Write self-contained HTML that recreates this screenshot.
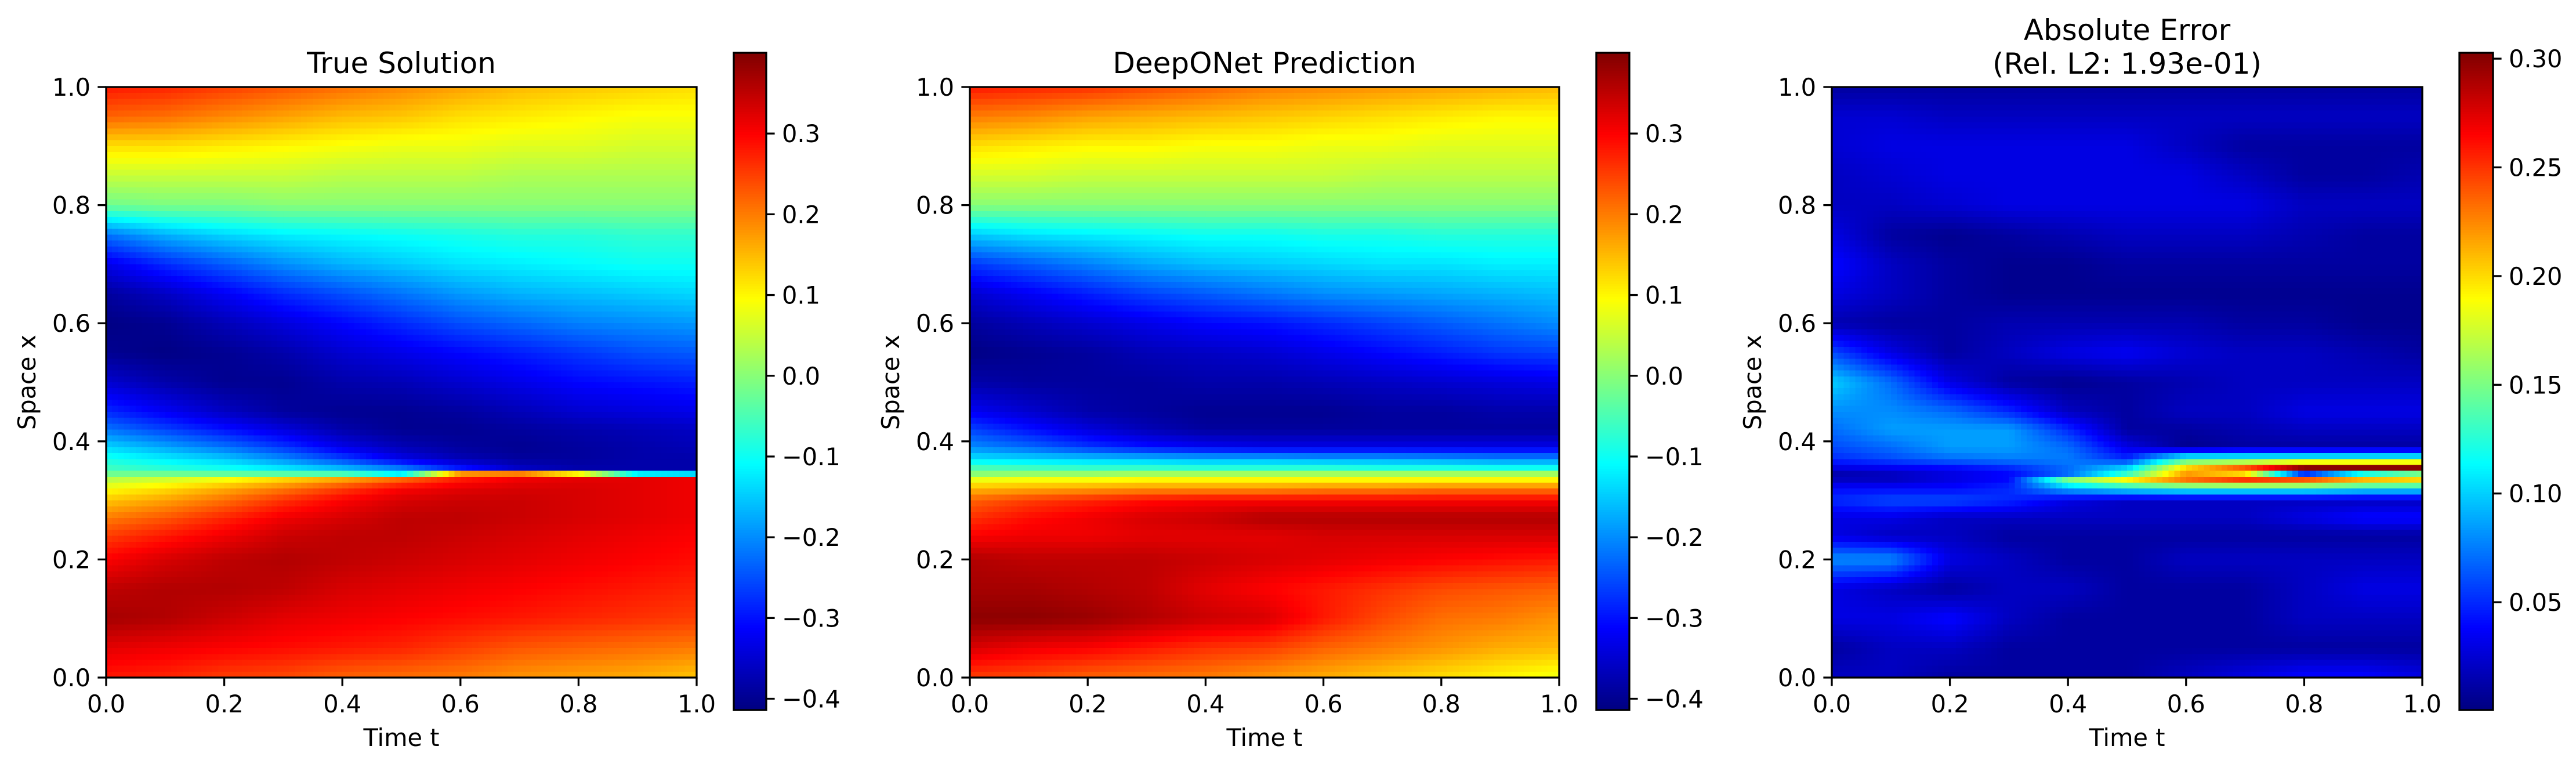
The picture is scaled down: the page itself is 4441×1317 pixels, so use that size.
<!DOCTYPE html>
<html><head><meta charset="utf-8">
<style>
html,body{margin:0;padding:0;background:#fff;}
#root{position:relative;width:4441px;height:1317px;overflow:hidden;background:#fff;font-family:"DejaVu Sans","Liberation Sans",sans-serif;}
canvas{position:absolute;image-rendering:pixelated;}
svg{position:absolute;left:0;top:0;}
</style></head>
<body>
<div id="root">
<canvas id="hm0" width="100" height="100" style="left:183px;top:150px;width:1018px;height:1018px"></canvas>
<canvas id="hm1" width="100" height="100" style="left:1672px;top:150px;width:1016px;height:1018px"></canvas>
<canvas id="hm2" width="100" height="100" style="left:3158px;top:150px;width:1018px;height:1018px"></canvas>
<canvas id="cb0" width="1" height="256" style="left:1265px;top:91px;width:56px;height:1133px"></canvas>
<canvas id="cb1" width="1" height="256" style="left:2752px;top:91px;width:57px;height:1133px"></canvas>
<canvas id="cb2" width="1" height="256" style="left:4240px;top:91px;width:58px;height:1133px"></canvas>
<svg id="ov" width="4441" height="1317"></svg>
</div>
<script>
const T = [0,0.1,0.2,0.3,0.4,0.5,0.6,0.7,0.8,0.9,1.0];
const X = [1,.95,.9,.85,.8,.75,.7,.65,.6,.55,.5,.45,.42,.39,.37,.355,.345,.335,.32,.3,.27,.24,.2,.15,.1,.05,0];
const trueVals = [
[.28,.27,.25,.23,.21,.19,.17,.15,.14,.13,.12],
[.22,.21,.19,.17,.15,.14,.12,.11,.10,.09,.09],
[.12,.12,.11,.10,.09,.08,.08,.07,.07,.06,.06],
[.05,.05,.05,.05,.04,.04,.04,.03,.03,.03,.03],
[-.02,-.01,-.01,0,0,0,0,0,0,0,0],
[-.22,-.17,-.14,-.12,-.11,-.1,-.09,-.08,-.08,-.07,-.07],
[-.33,-.28,-.24,-.2,-.17,-.15,-.13,-.12,-.11,-.1,-.1],
[-.39,-.36,-.32,-.28,-.25,-.22,-.19,-.17,-.16,-.15,-.14],
[-.41,-.40,-.37,-.34,-.31,-.28,-.25,-.23,-.21,-.2,-.19],
[-.40,-.41,-.40,-.38,-.35,-.33,-.31,-.29,-.27,-.25,-.24],
[-.35,-.38,-.40,-.40,-.38,-.37,-.35,-.33,-.31,-.30,-.29],
[-.28,-.32,-.36,-.39,-.40,-.40,-.39,-.37,-.35,-.34,-.33],
[-.22,-.26,-.30,-.34,-.38,-.40,-.40,-.39,-.38,-.37,-.36],
[-.14,-.18,-.22,-.27,-.33,-.37,-.39,-.40,-.39,-.38,-.37],
[-.09,-.12,-.15,-.2,-.26,-.33,-.37,-.39,-.39,-.38,-.38],
[-.06,-.08,-.1,-.13,-.17,-.22,-.3,-.36,-.38,-.38,-.38],
[-.02,-.02,-.03,-.04,-.05,-.12,.18,.2,.1,-.12,-.14],
[.04,.06,.09,.13,.17,.22,.28,.31,.32,.32,.31],
[.09,.12,.16,.2,.25,.3,.32,.33,.33,.32,.31],
[.14,.17,.21,.26,.3,.33,.34,.34,.33,.32,.31],
[.2,.23,.27,.31,.33,.35,.35,.34,.33,.32,.31],
[.25,.28,.31,.34,.35,.35,.34,.33,.32,.31,.3],
[.3,.33,.35,.36,.35,.34,.33,.32,.31,.3,.29],
[.35,.36,.36,.35,.33,.32,.31,.3,.29,.28,.27],
[.37,.36,.34,.32,.31,.3,.29,.28,.27,.26,.25],
[.32,.31,.3,.29,.28,.27,.25,.23,.22,.21,.2],
[.28,.27,.25,.24,.22,.21,.2,.18,.17,.16,.14]];
const predVals = [
[.28,.27,.26,.24,.22,.2,.19,.18,.17,.16,.15],
[.2,.19,.17,.16,.15,.14,.13,.12,.11,.1,.1],
[.12,.11,.1,.1,.09,.09,.08,.08,.07,.07,.07],
[.06,.06,.05,.05,.05,.05,.05,.04,.04,.04,.04],
[0,0,0,0,0,0,0,0,0,0,0],
[-.15,-.13,-.12,-.11,-.1,-.1,-.09,-.09,-.08,-.08,-.08],
[-.27,-.24,-.21,-.18,-.16,-.15,-.14,-.13,-.13,-.12,-.12],
[-.35,-.32,-.29,-.26,-.24,-.22,-.2,-.19,-.18,-.17,-.16],
[-.39,-.37,-.35,-.33,-.31,-.3,-.28,-.26,-.24,-.22,-.2],
[-.41,-.40,-.39,-.37,-.36,-.35,-.33,-.31,-.29,-.27,-.26],
[-.38,-.39,-.39,-.39,-.38,-.38,-.37,-.36,-.35,-.34,-.33],
[-.32,-.35,-.38,-.39,-.40,-.40,-.40,-.39,-.39,-.38,-.38],
[-.26,-.30,-.34,-.37,-.39,-.39,-.39,-.39,-.39,-.39,-.39],
[-.2,-.23,-.27,-.3,-.32,-.33,-.33,-.33,-.33,-.33,-.33],
[-.13,-.14,-.15,-.16,-.17,-.17,-.18,-.18,-.19,-.2,-.2],
[-.05,-.06,-.07,-.07,-.08,-.08,-.08,-.09,-.09,-.1,-.1],
[0,.01,.01,.02,.02,.02,.02,.02,.02,.02,.02],
[.08,.09,.09,.1,.1,.1,.1,.1,.1,.1,.1],
[.15,.16,.17,.18,.18,.18,.19,.19,.2,.2,.2],
[.22,.25,.27,.29,.3,.3,.3,.3,.3,.3,.3],
[.26,.29,.31,.33,.34,.36,.36,.36,.36,.36,.36],
[.3,.31,.31,.32,.32,.32,.33,.33,.33,.33,.33],
[.36,.35,.35,.35,.34,.33,.32,.31,.3,.29,.28],
[.37,.37,.36,.35,.32,.3,.28,.26,.24,.23,.22],
[.39,.39,.38,.36,.34,.33,.28,.24,.21,.2,.18],
[.33,.31,.3,.28,.26,.25,.22,.2,.18,.16,.15],
[.25,.24,.22,.21,.2,.18,.16,.14,.12,.1,.08]];
const errVals = [
[.01,.01,.01,.01,.01,.01,.01,.01,.01,.01,.01],
[.025,.025,.02,.02,.02,.02,.02,.02,.02,.02,.02],
[.025,.03,.03,.03,.03,.03,.02,.01,.01,.01,.01],
[.02,.025,.03,.03,.03,.03,.03,.02,.01,.01,.015],
[.02,.02,.025,.03,.03,.03,.03,.03,.02,.02,.02],
[.03,.01,.005,.01,.015,.02,.02,.02,.015,.01,.01],
[.04,.02,.01,.005,.005,.01,.01,.01,.01,.01,.01],
[.03,.02,.01,.005,.005,.005,.005,.005,.005,.005,.005],
[.015,.01,.01,.015,.015,.015,.015,.01,.01,.005,.005],
[.06,.03,.01,.02,.03,.035,.025,.02,.02,.015,.01],
[.1,.07,.03,.01,.005,.01,.015,.02,.02,.02,.02],
[.08,.08,.07,.05,.02,.01,.02,.02,.03,.03,.03],
[.07,.085,.085,.085,.05,.01,.01,.015,.02,.02,.02],
[.06,.07,.085,.085,.07,.03,.005,.01,.01,.01,.01],
[.05,.06,.07,.075,.075,.05,.13,.13,.13,.13,.13],
[.03,.035,.04,.05,.07,.1,.2,.24,.3,.3,.3],
[.015,.02,.03,.04,.07,.13,.22,.2,.05,.12,.15],
[.02,.02,.03,.04,.15,.19,.23,.25,.24,.21,.2],
[.04,.04,.04,.05,.09,.11,.12,.12,.12,.11,.11],
[.05,.06,.06,.05,.03,.02,.02,.02,.02,.02,.02],
[.03,.03,.02,.02,.02,.02,.02,.02,.03,.04,.04],
[.03,.02,.02,.01,.01,.01,.01,.01,.01,.01,.01],
[.08,.08,.03,.02,.01,.01,.02,.02,.02,.02,.02],
[.03,.02,.01,.02,.02,.01,.01,.01,.02,.03,.03],
[.03,.03,.04,.02,.01,.01,.01,.01,.02,.02,.02],
[.01,.02,.02,.01,.01,.01,.01,.01,.01,.01,.01],
[.02,.02,.01,.01,.01,.01,.02,.03,.04,.04,.03]];
const axisTicks = [0,0.2,0.4,0.6,0.8,1.0];
const axisTickLabels = ["0.0","0.2","0.4","0.6","0.8","1.0"];
const cbTicksSol = [-0.4,-0.3,-0.2,-0.1,0.0,0.1,0.2,0.3];
const cbLabelsSol = ["\u22120.4","\u22120.3","\u22120.2","\u22120.1","0.0","0.1","0.2","0.3"];
const cbTicksErr = [0.05,0.10,0.15,0.20,0.25,0.30];
const cbLabelsErr = ["0.05","0.10","0.15","0.20","0.25","0.30"];
const solRange = [-0.414, 0.40];
const errRange = [0.0004, 0.3027];

function jet(v){
  const c=x=>Math.max(0,Math.min(1,x));
  return [c(1.5-Math.abs(4*v-3)),c(1.5-Math.abs(4*v-2)),c(1.5-Math.abs(4*v-1))].map(x=>Math.round(x*255));
}
function sample(vals,t,x){
  let fi=t/0.1; let i0=Math.min(9,Math.floor(fi)); let ft=fi-i0;
  let j=0; while(j<X.length-2 && x<X[j+1]) j++;
  let fx=(X[j]-x)/(X[j]-X[j+1]); fx=Math.max(0,Math.min(1,fx));
  const a=vals[j][i0]*(1-ft)+vals[j][i0+1]*ft;
  const b=vals[j+1][i0]*(1-ft)+vals[j+1][i0+1]*ft;
  return a*(1-fx)+b*fx;
}
function drawHeat(id,vals,range){
  const cv=document.getElementById(id),ctx=cv.getContext('2d');
  const img=ctx.createImageData(100,100);
  for(let r=0;r<100;r++)for(let c=0;c<100;c++){
    const t=(c+0.5)/100,x=1-(r+0.5)/100;
    const v=sample(vals,t,x);
    const col=jet((v-range[0])/(range[1]-range[0]));
    const k=(r*100+c)*4; img.data[k]=col[0];img.data[k+1]=col[1];img.data[k+2]=col[2];img.data[k+3]=255;
  }
  ctx.putImageData(img,0,0);
}
function drawCb(id){
  const cv=document.getElementById(id),ctx=cv.getContext('2d');
  for(let i=0;i<256;i++){const col=jet(1-(i+0.5)/256);ctx.fillStyle=`rgb(${col[0]},${col[1]},${col[2]})`;ctx.fillRect(0,i,1,1);}
}
drawHeat('hm0',trueVals,solRange);drawHeat('hm1',predVals,solRange);drawHeat('hm2',errVals,errRange);
drawCb('cb0');drawCb('cb1');drawCb('cb2');

const NS='http://www.w3.org/2000/svg';
const svg=document.getElementById('ov');
function el(tag,attrs,txt){const e=document.createElementNS(NS,tag);for(const k in attrs)e.setAttribute(k,attrs[k]);if(txt!==undefined)e.textContent=txt;svg.appendChild(e);return e;}
const FS=41.5;
const panels=[
 {L:183,R:1201,title:["True Solution"],cbL:1265,cbR:1321,ticks:cbTicksSol,labels:cbLabelsSol,range:solRange,key:'true'},
 {L:1672,R:2688,title:["DeepONet Prediction"],cbL:2752,cbR:2809,ticks:cbTicksSol,labels:cbLabelsSol,range:solRange,key:'pred'},
 {L:3158,R:4176,title:["Absolute Error","(Rel. L2: 1.93e-01)"],cbL:4240,cbR:4298,ticks:cbTicksErr,labels:cbLabelsErr,range:errRange,key:'error'}];
const TOP=150,BOT=1168,CBT=91,CBB=1224;
panels.forEach(p=>{
  const sx=v=>p.L+v*(p.R-p.L), sy=v=>BOT-v*(BOT-TOP);
  let e=el('rect',{x:p.L,y:TOP,width:p.R-p.L,height:BOT-TOP,fill:'none',stroke:'#000','stroke-width':3.3});
  
  
  axisTicks.forEach((v,i)=>{
    el('line',{x1:sx(v),x2:sx(v),y1:BOT,y2:BOT+14.6,stroke:'#000','stroke-width':3.3});
    let t=el('text',{x:sx(v),y:BOT+60,'font-size':FS,'text-anchor':'middle'},axisTickLabels[i]);
    
    
    el('line',{x1:p.L-14.6,x2:p.L,y1:sy(v),y2:sy(v),stroke:'#000','stroke-width':3.3});
    let u=el('text',{x:p.L-27,y:sy(v)+15,'font-size':FS,'text-anchor':'end'},axisTickLabels[i]);
    
    
  });
  const cx=(p.L+p.R)/2;
  let xl=el('text',{x:cx,y:1286,'font-size':FS,'text-anchor':'middle'},'Time t');
  
  
  const ylx=p.L-122, yly=(TOP+BOT)/2;
  let yl=el('text',{x:ylx,y:yly,'font-size':FS,'text-anchor':'middle',transform:`rotate(-90 ${ylx} ${yly})`},'Space x');
  
  
  if(p.title.length===1){
    let tt=el('text',{x:cx,y:126,'font-size':50,'text-anchor':'middle'},p.title[0]);
    
    
  } else {
    let tt=el('text',{x:cx,y:69,'font-size':50,'text-anchor':'middle'},p.title[0]);
    
    
    let t2=el('text',{x:cx,y:127,'font-size':50,'text-anchor':'middle'},p.title[1]);
    
    
  }
  let cf=el('rect',{x:p.cbL,y:CBT,width:p.cbR-p.cbL,height:CBB-CBT,fill:'none',stroke:'#000','stroke-width':3.3});
  
  
  const cy=v=>CBB-(v-p.range[0])/(p.range[1]-p.range[0])*(CBB-CBT);
  p.ticks.forEach((v,i)=>{
    el('line',{x1:p.cbR,x2:p.cbR+14.6,y1:cy(v),y2:cy(v),stroke:'#000','stroke-width':3.3});
    let ct=el('text',{x:p.cbR+27,y:cy(v)+15,'font-size':FS},p.labels[i]);
    
    
  });
});
</script>
</body></html>
